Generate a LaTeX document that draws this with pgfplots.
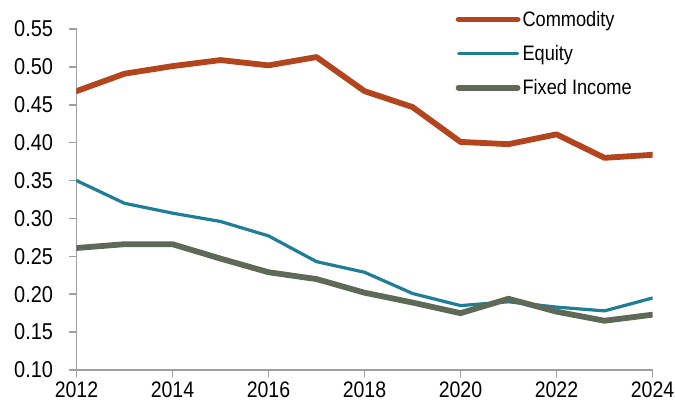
\documentclass[border=0pt]{standalone}
\usepackage{pgfplots}
\pgfplotsset{compat=1.18}
\usepackage{fontspec}
\setmainfont{Liberation Sans}
\newfontfamily\narrowfont[FakeStretch=0.87]{Liberation Sans}
\definecolor{comm}{HTML}{B2441E}
\definecolor{equ}{HTML}{1E7E96}
\definecolor{fix}{HTML}{5F6958}
\definecolor{axg}{HTML}{A0A0A0}
\begin{document}
\begin{tikzpicture}
\path[use as bounding box] (-76.5bp,-41bp) rectangle (598.5bp,370bp);
\begin{axis}[
  at={(0,0)}, anchor=south west,
  scale only axis, width=576bp, height=341bp,
  xmin=2012, xmax=2024, ymin=0.1, ymax=0.55,
  axis x line*=bottom, axis y line*=left,
  axis line style={axg, line width=1.5bp},
  tick style={axg, line width=1.5bp},
  major tick length=7bp, tick align=outside,
  xtick={2012,2014,...,2024},
  ytick={0.10,0.15,...,0.56},
  /pgf/number format/assume math mode=true,
  x tick label style={/pgf/number format/1000 sep={}, font=\narrowfont\fontsize{22.5}{24}\selectfont, yshift=-1bp},
  y tick label style={/pgf/number format/.cd, fixed, fixed zerofill, precision=2, /tikz/.cd, font=\narrowfont\fontsize{23}{24}\selectfont, xshift=-13bp},
  legend style={at={(rel axis cs:0.658,1)}, anchor=north west, draw=none, fill=none, font=\narrowfont\fontsize{21}{24}\selectfont, row sep=13.5bp, yshift=20bp, inner sep=0pt},
  legend cell align=left,
  legend image code/.code={\draw[#1, line cap=round] (0bp,0bp) -- (59bp,0bp);},
  line join=round, line cap=round,
]
\addplot[comm, line width=5.8bp] coordinates {
(2012,0.468) (2013,0.491) (2014,0.501) (2015,0.509) (2016,0.502) (2017,0.513)
(2018,0.468) (2019,0.447) (2020,0.401) (2021,0.398) (2022,0.411) (2023,0.380) (2024,0.384)};
\addlegendentry{Commodity}
\addplot[equ, line width=3.2bp] coordinates {
(2012,0.350) (2013,0.320) (2014,0.307) (2015,0.296) (2016,0.277) (2017,0.243)
(2018,0.229) (2019,0.201) (2020,0.185) (2021,0.190) (2022,0.183) (2023,0.178) (2024,0.195)};
\addlegendentry{Equity}
\addplot[fix, line width=5.8bp] coordinates {
(2012,0.261) (2013,0.266) (2014,0.266) (2015,0.247) (2016,0.229) (2017,0.220)
(2018,0.202) (2019,0.189) (2020,0.175) (2021,0.194) (2022,0.177) (2023,0.165) (2024,0.173)};
\addlegendentry{Fixed Income}
\end{axis}
\end{tikzpicture}
\end{document}
